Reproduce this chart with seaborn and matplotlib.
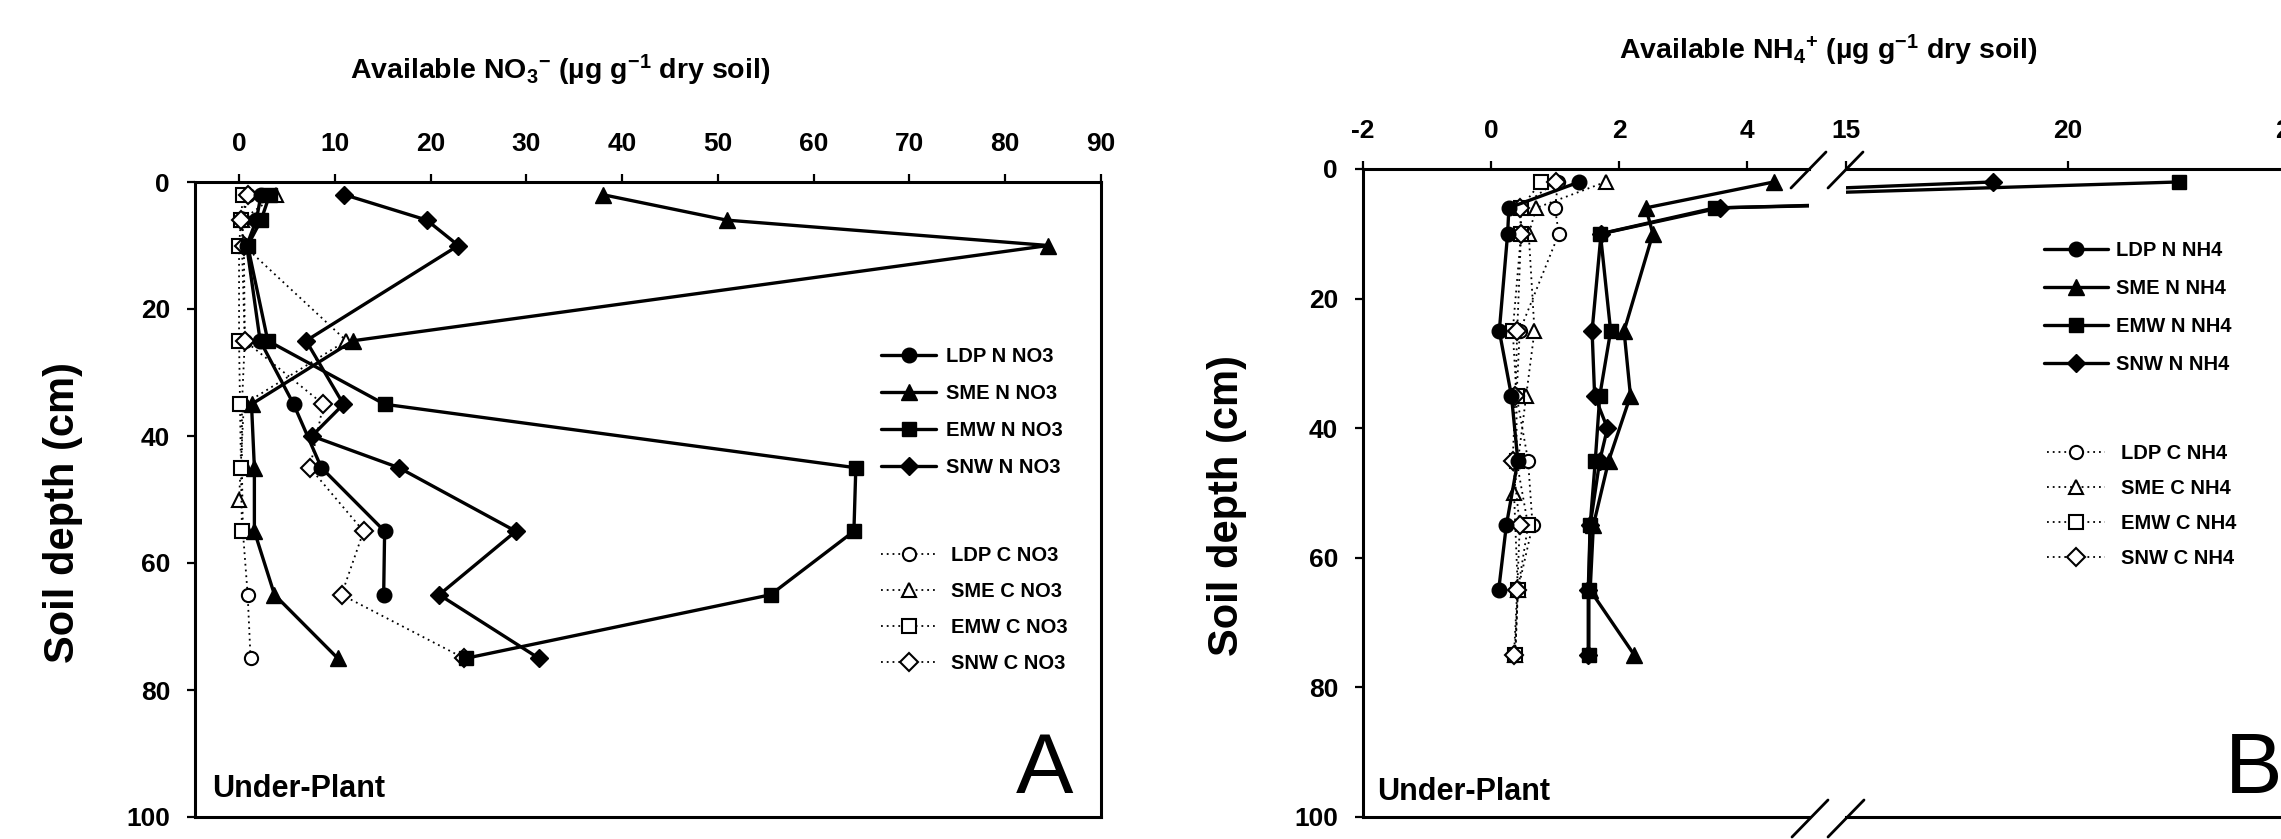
import matplotlib
matplotlib.use("Agg")
import matplotlib.pyplot as plt
import seaborn as sns
from matplotlib.lines import Line2D

# ---------------- data ----------------
DEPTH = [2, 6, 10, 25, 35, 45, 55, 65, 75]
DEPTH_SNW_N = [2, 6, 10, 25, 35, 40, 45, 55, 65, 75]
DEPTH_LDP_N = [2, 6, 10, 25, 35, 45, 55, 65]
DEPTH_SME_C_A = [2, 6, 10, 25, 35, 50]
DEPTH_EMW_C_A = [2, 6, 10, 25, 35, 45, 55]
DEPTH_SME_C_B = [2, 6, 10, 25, 35, 50, 65, 75]

SITES = ["LDP", "SME", "EMW", "SNW"]

# Panel A : available NO3-
no3_ldp_n = [2.3, 1.8, 0.8, 2.2, 5.7, 8.6, 15.2, 15.1]
no3_sme_n = [38.0, 50.9, 84.5, 11.9, 1.3, 1.6, 1.6, 3.7, 10.3]
no3_emw_n = [3.2, 2.3, 0.9, 3.0, 15.2, 64.4, 64.2, 55.5, 23.7]
no3_snw_n = [11.0, 19.6, 22.9, 7.0, 10.9, 7.6, 16.7, 28.9, 20.9, 31.3]
no3_ldp_c = [0.9, 0.4, 0.3, 0.6, 0.3, 0.3, 0.4, 0.9, 1.2]
no3_sme_c = [3.9, 0.3, 0.5, 11.2, 0.5, 0.0]
no3_emw_c = [0.4, 0.2, 0.0, 0.0, 0.1, 0.2, 0.3]
no3_snw_c = [0.9, 0.2, 0.5, 0.6, 8.8, 7.4, 13.0, 10.7, 23.5]

# Panel B : available NH4+
nh4_ldp_n = [1.38, 0.28, 0.26, 0.13, 0.32, 0.42, 0.24, 0.12]
nh4_sme_n = [4.42, 2.42, 2.53, 2.08, 2.18, 1.84, 1.60, 1.55, 2.24]
nh4_emw_n = [22.5, 3.50, 1.71, 1.87, 1.70, 1.63, 1.55, 1.53, 1.53]
nh4_snw_n = [18.3, 3.58, 1.72, 1.58, 1.62, 1.82, 1.70, 1.55, 1.52, 1.52]
nh4_ldp_c = [1.05, 1.00, 1.06, 0.45, 0.40, 0.58, 0.65, 0.42, 0.37]
nh4_sme_c = [1.79, 0.71, 0.59, 0.68, 0.55, 0.36, 0.42, 0.38]
nh4_emw_c = [0.78, 0.47, 0.47, 0.34, 0.40, 0.40, 0.58, 0.42, 0.38]
nh4_snw_c = [1.01, 0.45, 0.47, 0.41, 0.38, 0.34, 0.45, 0.41, 0.36]

NO3_TICKS = [0, 10, 20, 30, 40, 50, 60, 70, 80, 90]
NH4_TICKS_LEFT = [-2, 0, 2, 4]
NH4_TICKS_RIGHT = [15, 20, 25]
DEPTH_TICKS = [0, 20, 40, 60, 80, 100]

# ---------------- style ----------------
sns.set_theme(style="ticks")
plt.rcParams["font.family"] = ["Liberation Sans", "DejaVu Sans"]
plt.rcParams["font.weight"] = "bold"
plt.rcParams["mathtext.fontset"] = "custom"
plt.rcParams["mathtext.rm"] = "Liberation Sans:bold"
plt.rcParams["mathtext.bf"] = "Liberation Sans:bold"
plt.rcParams["mathtext.it"] = "Liberation Sans:bold"
plt.rcParams["axes.edgecolor"] = "black"
plt.rcParams["axes.labelcolor"] = "black"
plt.rcParams["text.color"] = "black"
plt.rcParams["xtick.color"] = "black"
plt.rcParams["ytick.color"] = "black"
plt.rcParams["axes.unicode_minus"] = False
plt.rcParams["legend.numpoints"] = 1

NARROW = ["Liberation Sans Narrow", "Liberation Sans", "DejaVu Sans"]

W, H = 2281, 839
fig = plt.figure(figsize=(W / 100, H / 100), dpi=100)
fig.patch.set_facecolor("white")


def rect(l, t, r, b):
    return [l / W, 1 - b / H, (r - l) / W, (b - t) / H]


axA = fig.add_axes(rect(195, 182, 1101, 817))
axL = fig.add_axes(rect(1363, 169, 1809, 817))
axR = fig.add_axes(rect(1846, 169, 2290, 817))

MARKERS = {"LDP": "o", "SME": "^", "EMW": "s", "SNW": "D"}
MS_N = {"LDP": 10.5, "SME": 11, "EMW": 10.5, "SNW": 9.5}
MS_C = {"LDP": 9.5, "SME": 10, "EMW": 9.5, "SNW": 9.5}


def draw(ax, vals, depths, site, treat, label):
    filled = treat == "N"
    sns.lineplot(
        x=vals, y=depths, ax=ax, orient="y", estimator=None, sort=False,
        color="black",
        linestyle="-" if filled else (0, (1, 2.2)),
        linewidth=2.4 if filled else 1.3,
        marker=MARKERS[site],
        markersize=MS_N[site] if filled else MS_C[site],
        markerfacecolor="black" if filled else "white",
        markeredgecolor="black",
        markeredgewidth=1.0 if filled else 1.5,
        label=label, zorder=3 if filled else 2,
    )


seriesA_c = [(no3_ldp_c, DEPTH), (no3_sme_c, DEPTH_SME_C_A), (no3_emw_c, DEPTH_EMW_C_A), (no3_snw_c, DEPTH)]
seriesA_n = [(no3_ldp_n, DEPTH_LDP_N), (no3_sme_n, DEPTH), (no3_emw_n, DEPTH), (no3_snw_n, DEPTH_SNW_N)]
seriesB_c = [(nh4_ldp_c, DEPTH), (nh4_sme_c, DEPTH_SME_C_B), (nh4_emw_c, DEPTH), (nh4_snw_c, DEPTH)]
seriesB_n = [(nh4_ldp_n, DEPTH_LDP_N), (nh4_sme_n, DEPTH), (nh4_emw_n, DEPTH), (nh4_snw_n, DEPTH_SNW_N)]

for site, (v, d) in zip(SITES, seriesA_c):
    draw(axA, v, d, site, "C", f"{site} C NO3")
for site, (v, d) in zip(SITES, seriesA_n):
    draw(axA, v, d, site, "N", f"{site} N NO3")
for ax in (axL, axR):
    for site, (v, d) in zip(SITES, seriesB_c):
        draw(ax, v, d, site, "C", f"{site} C NH4")
    for site, (v, d) in zip(SITES, seriesB_n):
        draw(ax, v, d, site, "N", f"{site} N NH4")

# ---------------- axes ----------------
TICK_KW = dict(direction="out", length=6, width=1.6, labelsize=19, colors="black")
for ax in (axA, axL, axR):
    ax.set_ylim(100, 0)
    ax.set_xlabel("")
    ax.set_ylabel("")
    ax.xaxis.tick_top()
    ax.xaxis.set_label_position("top")
    for s in ax.spines.values():
        s.set_linewidth(2.2)
        s.set_color("black")
    ax.tick_params(axis="x", pad=13, **TICK_KW)
    ax.tick_params(axis="y", pad=12, **TICK_KW)
    ax.set_facecolor("white")

axA.set_xlim(-4.6, 90)
axA.set_xticks(NO3_TICKS)
axA.set_yticks(DEPTH_TICKS)

axL.set_xlim(-2, 4.97)
axL.set_xticks(NH4_TICKS_LEFT)
axL.set_yticks(DEPTH_TICKS)
axL.spines["right"].set_visible(False)

axR.set_xlim(15, 25)
axR.set_xticks(NH4_TICKS_RIGHT)
axR.set_yticks(DEPTH_TICKS)
axR.spines["left"].set_visible(False)
axR.tick_params(axis="y", left=False, labelleft=False, right=False)

for ax in (axA, axL, axR):
    for lbl in ax.get_xticklabels() + ax.get_yticklabels():
        lbl.set_fontweight("bold")
        lbl.set_color("black")

# axis titles
axA.set_xlabel(r"Available NO$_\mathbf{3}$$^\mathbf{-}$ (µg g$^\mathbf{-1}$ dry soil)",
               fontsize=20.5, fontweight="bold", color="black")
axA.xaxis.set_label_coords(0.403, 1.162)
axL.set_xlabel(r"Available NH$_\mathbf{4}$$^\mathbf{+}$ (µg g$^\mathbf{-1}$ dry soil)",
               fontsize=20.5, fontweight="bold", color="black")
axL.xaxis.set_label_coords(1.0426, 1.169)

axA.set_ylabel("Soil depth (cm)", fontsize=30, fontweight="bold", color="black")
axA.yaxis.set_label_coords(-0.1236, 0.48)
axL.set_ylabel("Soil depth (cm)", fontsize=30, fontweight="bold", color="black")
axL.yaxis.set_label_coords(-0.26, 0.481)

# annotations
axA.text(0.019, 0.0315, "Under-Plant", transform=axA.transAxes, fontsize=22,
         fontweight="bold", ha="left", va="baseline", color="black")
axL.text(0.031, 0.026, "Under-Plant", transform=axL.transAxes, fontsize=22,
         fontweight="bold", ha="left", va="baseline", color="black")
axA.text(0.970, 0.038, "A", transform=axA.transAxes, fontsize=62,
         fontweight="normal", family=NARROW, ha="right", va="baseline", color="black")
axR.text(0.854, 0.037, "B", transform=axR.transAxes, fontsize=62,
         fontweight="normal", family=NARROW, ha="left", va="baseline", color="black")

# break marks on the NH4 axis
for (x0, y0, x1, y1) in [(1791, 188, 1826, 152), (1828, 188, 1863, 152),
                         (1792, 837, 1828, 800), (1828, 837, 1864, 800)]:
    fig.add_artist(Line2D([x0 / W, x1 / W], [1 - y0 / H, 1 - y1 / H],
                          transform=fig.transFigure, color="black", lw=2.0))

# ---------------- legends ----------------
LEG_FONT = dict(family=NARROW, weight="bold", size=14.5)


def make_legend(ax, handles, labels, x, y, hl, spacing, tpad):
    leg = ax.legend(handles, labels, loc="upper left",
                    bbox_to_anchor=(x / W, 1 - y / H), bbox_transform=fig.transFigure,
                    frameon=False, prop=LEG_FONT, handlelength=hl,
                    handletextpad=tpad, labelspacing=spacing, borderpad=0,
                    borderaxespad=0, labelcolor="black")
    ax.add_artist(leg)
    return leg


hA, lA = axA.get_legend_handles_labels()
dA = dict(zip(lA, hA))
nA = [f"{s} N NO3" for s in SITES]
cA = [f"{s} C NO3" for s in SITES]
make_legend(axA, [dA[k] for k in nA], nA, 881, 347, 2.75, 0.9, 0.5)
make_legend(axA, [dA[k] for k in cA], cA, 881, 546, 2.75, 0.85, 0.75)

hB, lB = axL.get_legend_handles_labels()
dB = dict(zip(lB, hB))
nB = [f"{s} N NH4" for s in SITES]
cB = [f"{s} C NH4" for s in SITES]
make_legend(axR, [dB[k] for k in nB], nB, 2044, 241, 3.2, 0.95, 0.4)
make_legend(axR, [dB[k] for k in cB], cB, 2047, 444, 2.9, 0.8, 0.75)

axA.legend_ = None
axL.legend_ = None
axR.legend_ = None

fig.savefig("out.png", dpi=100, facecolor="white")
